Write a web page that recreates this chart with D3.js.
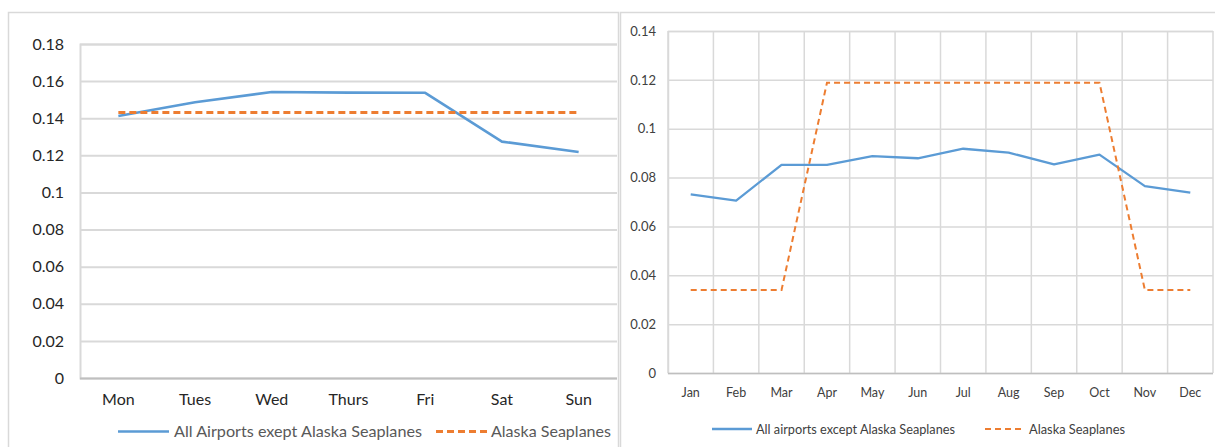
<!DOCTYPE html>
<html>
<head>
<meta charset="utf-8">
<script src="https://cdn.jsdelivr.net/npm/d3@7"></script>
<style>
  html, body { margin: 0; padding: 0; background: #fff; }
  svg { display: block; }
</style>
</head>
<body>
<svg id="chart" width="1215" height="447"></svg>
<script>
// Weekly profile
const days = ["Mon", "Tues", "Wed", "Thurs", "Fri", "Sat", "Sun"];
const dayAllAirports = [0.1412, 0.1486, 0.1541, 0.1538, 0.1537, 0.1274, 0.1218];
const daySeaplanes = [0.1431, 0.1431, 0.1431, 0.1431, 0.1431, 0.1431, 0.1431];
const dayTicks = [0, 0.02, 0.04, 0.06, 0.08, 0.1, 0.12, 0.14, 0.16, 0.18];

// Monthly profile
const months = ["Jan", "Feb", "Mar", "Apr", "May", "Jun", "Jul", "Aug", "Sep", "Oct", "Nov", "Dec"];
const monthAllAirports = [0.0731, 0.0706, 0.0852, 0.0852, 0.0888, 0.0879, 0.0918, 0.0902, 0.0854, 0.0894, 0.0765, 0.0738];
const monthSeaplanes = [0.034, 0.034, 0.034, 0.1188, 0.1188, 0.1188, 0.1188, 0.1188, 0.1188, 0.1188, 0.034, 0.034];
const monthTicks = [0, 0.02, 0.04, 0.06, 0.08, 0.1, 0.12, 0.14];

const BLUE = "#5b9bd5", ORANGE = "#ed7d31", GRID = "#d9d9d9";
const svg = d3.select("#chart");

function tickFmt(v) { return v === 0 ? "0" : String(+v.toFixed(2)); }

// ---------- Left panel: day of week ----------
(function () {
  const g = svg.append("g");
  g.append("rect").attr("x", 8.5).attr("y", 12.5).attr("width", 610).attr("height", 460)
    .attr("fill", "none").attr("stroke", GRID).attr("stroke-width", 1.5);

  const x = d3.scaleBand().domain(days).range([80, 617]);
  const y = d3.scaleLinear().domain([0, 0.18]).range([378, 44]);

  const yAxis = d3.axisLeft(y).tickValues(dayTicks).tickSize(-(617 - 80)).tickFormat(tickFmt).tickPadding(16);
  const ya = g.append("g").attr("transform", "translate(80,0)").call(yAxis);
  ya.select(".domain").attr("stroke", GRID).attr("stroke-width", 2);
  ya.selectAll(".tick line").attr("stroke", GRID).attr("stroke-width", 2);
  ya.selectAll(".tick line").filter(d => d === 0).attr("stroke", "#bfbfbf");
  ya.selectAll(".tick text").attr("font-family", "Lato, 'Open Sans', sans-serif")
    .attr("font-size", 16).attr("fill", "#262626");

  const xa = g.append("g").attr("transform", "translate(0,378)")
    .call(d3.axisBottom(x).tickSize(0).tickPadding(16));
  xa.select(".domain").remove();
  xa.selectAll(".tick text").attr("font-family", "Lato, 'Open Sans', sans-serif")
    .attr("font-size", 16).attr("fill", "#262626");

  const cx = d => x(d) + x.bandwidth() / 2;
  const line = d3.line().x((d, i) => cx(days[i])).y(d => y(d));
  g.append("path").datum(dayAllAirports).attr("d", line).attr("fill", "none")
    .attr("stroke", BLUE).attr("stroke-width", 2.6).attr("stroke-linejoin", "round");
  g.append("path").datum(daySeaplanes).attr("d", line).attr("fill", "none")
    .attr("stroke", ORANGE).attr("stroke-width", 3).attr("stroke-dasharray", "7,4");

  // legend
  const ly = 431.5;
  g.append("line").attr("x1", 118).attr("x2", 169).attr("y1", ly).attr("y2", ly)
    .attr("stroke", BLUE).attr("stroke-width", 2.6);
  g.append("text").attr("x", 174).attr("y", ly + 5.5).text("All Airports exept Alaska Seaplanes")
    .attr("font-family", "Lato, 'Open Sans', sans-serif").attr("font-size", 16).attr("fill", "#595959")
    .attr("textLength", 248).attr("lengthAdjust", "spacingAndGlyphs");
  g.append("line").attr("x1", 436).attr("x2", 487).attr("y1", ly).attr("y2", ly)
    .attr("stroke", ORANGE).attr("stroke-width", 3).attr("stroke-dasharray", "7,4");
  g.append("text").attr("x", 491).attr("y", ly + 5.5).text("Alaska Seaplanes")
    .attr("font-family", "Lato, 'Open Sans', sans-serif").attr("font-size", 16).attr("fill", "#595959")
    .attr("textLength", 120).attr("lengthAdjust", "spacingAndGlyphs");
})();

// ---------- Right panel: month of year ----------
(function () {
  const g = svg.append("g");
  g.append("rect").attr("x", 620.5).attr("y", 12.5).attr("width", 620).attr("height", 460)
    .attr("fill", "none").attr("stroke", GRID).attr("stroke-width", 1.5);

  const left = 668, right = 1213, top = 31, bottom = 373;
  const x = d3.scaleBand().domain(months).range([left, right]);
  const y = d3.scaleLinear().domain([0, 0.14]).range([bottom, top]);

  // vertical grid at category boundaries
  const bounds = months.map(m => x(m)).concat([right]);
  g.append("g").selectAll("line").data(bounds).join("line")
    .attr("x1", d => d).attr("x2", d => d).attr("y1", top).attr("y2", bottom)
    .attr("stroke", GRID).attr("stroke-width", 1.5);

  const yAxis = d3.axisLeft(y).tickValues(monthTicks).tickSize(-(right - left)).tickFormat(tickFmt).tickPadding(12);
  const ya = g.append("g").attr("transform", `translate(${left},0)`).call(yAxis);
  ya.select(".domain").attr("stroke", GRID).attr("stroke-width", 1.5);
  ya.selectAll(".tick line").attr("stroke", GRID).attr("stroke-width", 1.5);
  ya.selectAll(".tick line").filter(d => d === 0).attr("stroke", "#bfbfbf");
  ya.selectAll(".tick text").attr("font-family", "Lato, 'Open Sans', sans-serif")
    .attr("font-size", 13).attr("fill", "#404040");

  const xa = g.append("g").attr("transform", `translate(0,${bottom})`)
    .call(d3.axisBottom(x).tickSize(0).tickPadding(15));
  xa.select(".domain").remove();
  xa.selectAll(".tick text").attr("font-family", "Lato, 'Open Sans', sans-serif")
    .attr("font-size", 12.5).attr("fill", "#404040");

  const cx = d => x(d) + x.bandwidth() / 2;
  const line = d3.line().x((d, i) => cx(months[i])).y(d => y(d));
  g.append("path").datum(monthAllAirports).attr("d", line).attr("fill", "none")
    .attr("stroke", BLUE).attr("stroke-width", 2.3).attr("stroke-linejoin", "round");
  g.append("path").datum(monthSeaplanes).attr("d", line).attr("fill", "none")
    .attr("stroke", ORANGE).attr("stroke-width", 2).attr("stroke-dasharray", "6,4");

  // legend
  const ly = 429;
  g.append("line").attr("x1", 712).attr("x2", 752).attr("y1", ly).attr("y2", ly)
    .attr("stroke", BLUE).attr("stroke-width", 2.3);
  g.append("text").attr("x", 756).attr("y", ly + 4.5).text("All airports except Alaska Seaplanes")
    .attr("font-family", "Lato, 'Open Sans', sans-serif").attr("font-size", 13).attr("fill", "#404040")
    .attr("textLength", 199).attr("lengthAdjust", "spacingAndGlyphs");
  g.append("line").attr("x1", 985).attr("x2", 1025).attr("y1", ly).attr("y2", ly)
    .attr("stroke", ORANGE).attr("stroke-width", 2).attr("stroke-dasharray", "6,4");
  g.append("text").attr("x", 1029).attr("y", ly + 4.5).text("Alaska Seaplanes")
    .attr("font-family", "Lato, 'Open Sans', sans-serif").attr("font-size", 13).attr("fill", "#404040")
    .attr("textLength", 96).attr("lengthAdjust", "spacingAndGlyphs");
})();
</script>
</body>
</html>
